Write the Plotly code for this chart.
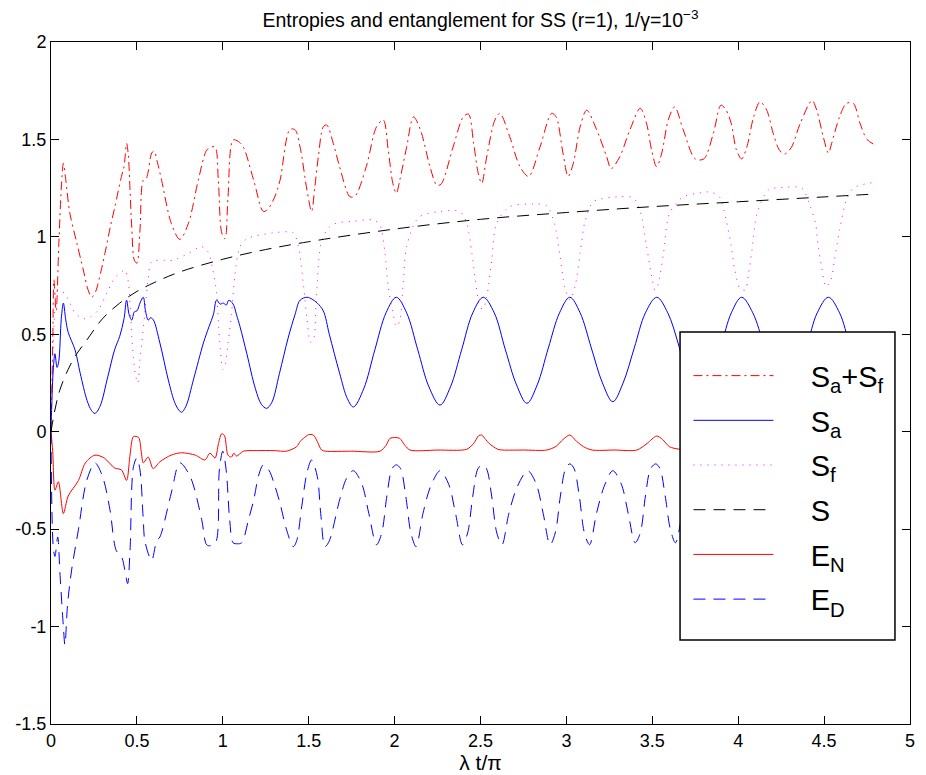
import plotly.graph_objects as go

# ---------------- data ----------------
x_ticks = [0, 0.5, 1, 1.5, 2, 2.5, 3, 3.5, 4, 4.5, 5]
x_ticklabels = ["0", "0.5", "1", "1.5", "2", "2.5", "3", "3.5", "4", "4.5", "5"]
y_ticks = [-1.5, -1, -0.5, 0, 0.5, 1, 1.5, 2]
y_ticklabels = ["-1.5", "-1", "-0.5", "0", "0.5", "1", "1.5", "2"]

# S_a + S_f  (red dash-dot)
sum_x = [0, 0.01, 0.017, 0.03, 0.045, 0.06, 0.072, 0.085, 0.11, 0.15, 0.188, 0.215, 0.237, 0.26, 0.29,
         0.314, 0.345, 0.372, 0.41, 0.425, 0.44, 0.45, 0.46, 0.47, 0.485, 0.50, 0.518, 0.537, 0.555,
         0.586, 0.60, 0.62, 0.644, 0.70, 0.75, 0.80, 0.857, 0.906, 0.93, 0.955, 0.974, 0.994, 1.013,
         1.03, 1.06, 1.09, 1.12, 1.18, 1.236, 1.26, 1.30, 1.333, 1.39, 1.42, 1.45, 1.49, 1.517, 1.535,
         1.556, 1.585, 1.605, 1.643, 1.68, 1.74, 1.77, 1.835, 1.895, 1.934, 1.963, 1.99, 2.01, 2.03,
         2.07, 2.11, 2.15, 2.206, 2.245, 2.27, 2.34, 2.40, 2.43, 2.46, 2.487, 2.507, 2.536, 2.584,
         2.613, 2.67, 2.73, 2.78, 2.846, 2.914, 2.94, 2.98, 3.01, 3.04, 3.08, 3.118, 3.176, 3.235,
         3.26, 3.31, 3.37, 3.43, 3.467, 3.496, 3.525, 3.555, 3.593, 3.63, 3.68, 3.75, 3.80, 3.855,
         3.90, 3.93, 3.96, 3.99, 4.02, 4.05, 4.09, 4.127, 4.166, 4.204, 4.24, 4.27, 4.31, 4.36, 4.43,
         4.457, 4.495, 4.525, 4.544, 4.59, 4.63, 4.67, 4.71, 4.75, 4.80]
sum_y = [0, 0.45, 0.78, 0.62, 0.95, 1.25, 1.377, 1.30, 1.12, 0.97, 0.83, 0.73, 0.69, 0.72, 0.82,
         0.915, 1.05, 1.155, 1.31, 1.36, 1.48, 1.42, 1.24, 1.05, 0.88, 0.865, 1.035, 1.29, 1.30,
         1.43, 1.44, 1.38, 1.29, 1.07, 0.987, 1.07, 1.29, 1.445, 1.46, 1.46, 1.29, 1.02, 0.99,
         1.2, 1.497, 1.49, 1.46, 1.29, 1.13, 1.14, 1.20, 1.29, 1.55, 1.55, 1.46, 1.24, 1.13, 1.25,
         1.41, 1.565, 1.574, 1.48, 1.36, 1.206, 1.21, 1.36, 1.565, 1.60, 1.445, 1.274, 1.223, 1.29,
         1.46, 1.616, 1.55, 1.36, 1.266, 1.27, 1.46, 1.616, 1.63, 1.48, 1.326, 1.274, 1.41, 1.60,
         1.634, 1.514, 1.36, 1.31, 1.46, 1.634, 1.616, 1.43, 1.31, 1.377, 1.565, 1.65, 1.55, 1.41,
         1.35, 1.41, 1.55, 1.66, 1.58, 1.445, 1.36, 1.43, 1.60, 1.667, 1.55, 1.40, 1.40, 1.53,
         1.676, 1.65, 1.58, 1.445, 1.40, 1.46, 1.616, 1.693, 1.65, 1.53, 1.445, 1.425, 1.46, 1.58, 1.70,
         1.65, 1.514, 1.43, 1.48, 1.616, 1.685, 1.685, 1.58, 1.50, 1.47]

# S_a  (blue solid)
sa_x = [0, 0.013, 0.023, 0.035, 0.045, 0.06, 0.072, 0.085, 0.10, 0.14, 0.17, 0.21, 0.235, 0.256, 0.285,
        0.33, 0.37, 0.40, 0.425, 0.44, 0.455, 0.47, 0.485, 0.50, 0.52, 0.537, 0.55, 0.566, 0.58, 0.595,
        0.634, 0.683, 0.72, 0.745, 0.76, 0.785, 0.83, 0.887, 0.92, 0.945, 0.964, 0.985, 1.003, 1.02,
        1.035, 1.06, 1.08, 1.10, 1.14, 1.19, 1.225, 1.255, 1.285, 1.33, 1.38, 1.42, 1.45, 1.49, 1.52,
        1.55, 1.585, 1.62, 1.68, 1.725, 1.76, 1.82, 1.885, 1.95, 2.01, 2.07, 2.135, 2.20, 2.264, 2.325,
        2.39, 2.455, 2.516, 2.58, 2.645, 2.71, 2.77, 2.83, 2.895, 2.96, 3.02, 3.08, 3.145, 3.21, 3.27,
        3.33, 3.395, 3.46, 3.526, 3.59, 3.65, 3.71, 3.77, 3.83, 3.90, 3.96, 4.02, 4.085, 4.15, 4.21,
        4.27, 4.33, 4.40, 4.46, 4.525, 4.59, 4.65, 4.71, 4.77, 4.80]
sa_y = [0, 0.317, 0.40, 0.33, 0.36, 0.58, 0.66, 0.58, 0.51, 0.42, 0.30, 0.16, 0.11, 0.094, 0.13,
        0.28, 0.42, 0.49, 0.58, 0.675, 0.60, 0.573, 0.615, 0.62, 0.665, 0.69, 0.62, 0.573, 0.585, 0.575,
        0.455, 0.265, 0.15, 0.11, 0.10, 0.13, 0.27, 0.455, 0.54, 0.60, 0.675, 0.655, 0.66, 0.65,
        0.675, 0.655, 0.60, 0.54, 0.40, 0.22, 0.14, 0.12, 0.15, 0.30, 0.48, 0.60, 0.675, 0.69, 0.68,
        0.66, 0.62, 0.50, 0.30, 0.17, 0.127, 0.22, 0.42, 0.61, 0.69, 0.61, 0.42, 0.23, 0.137, 0.23,
        0.42, 0.61, 0.69, 0.61, 0.42, 0.24, 0.146, 0.24, 0.43, 0.61, 0.69, 0.61, 0.43, 0.25, 0.154,
        0.25, 0.43, 0.61, 0.69, 0.61, 0.455, 0.26, 0.16, 0.26, 0.44, 0.61, 0.69, 0.61, 0.44, 0.26,
        0.165, 0.26, 0.44, 0.61, 0.69, 0.61, 0.44, 0.27, 0.17, 0.20]

# S_f  (magenta dotted)
sf_x = [0, 0.01, 0.02, 0.035, 0.06, 0.081, 0.11, 0.14, 0.188, 0.23, 0.275, 0.324, 0.372, 0.41, 0.43,
        0.45, 0.47, 0.48, 0.49, 0.505, 0.518, 0.528, 0.545, 0.565, 0.586, 0.664, 0.71, 0.80, 0.877,
        0.916, 0.94, 0.964, 0.975, 0.99, 1.0, 1.01, 1.03, 1.05, 1.07, 1.10, 1.14, 1.29, 1.41, 1.44,
        1.47, 1.49, 1.51, 1.527, 1.545, 1.575, 1.62, 1.66, 1.76, 1.876, 1.915, 1.944, 1.963, 1.99,
        2.01, 2.03, 2.05, 2.07, 2.14, 2.264, 2.38, 2.42, 2.45, 2.47, 2.497, 2.515, 2.536, 2.565,
        2.594, 2.67, 2.81, 2.885, 2.93, 2.963, 2.99, 3.02, 3.05, 3.08, 3.11, 3.157, 3.31, 3.39,
        3.43, 3.467, 3.50, 3.516, 3.535, 3.565, 3.60, 3.68, 3.76, 3.84, 3.89, 3.93, 3.96, 3.98,
        4.01, 4.04, 4.06, 4.08, 4.11, 4.175, 4.27, 4.37, 4.42, 4.45, 4.466, 4.486, 4.51, 4.54,
        4.56, 4.59, 4.63, 4.67, 4.757, 4.80]
sf_y = [0, 0.35, 0.60, 0.72, 0.72, 0.71, 0.66, 0.61, 0.58, 0.59, 0.624, 0.71, 0.79, 0.82, 0.83,
        0.77, 0.49, 0.38, 0.30, 0.25, 0.37, 0.45, 0.60, 0.78, 0.872, 0.88, 0.88, 0.915, 0.95,
        0.92, 0.84, 0.71, 0.55, 0.38, 0.32, 0.33, 0.45, 0.60, 0.80, 0.95, 0.99, 1.02, 1.02, 0.95,
        0.75, 0.58, 0.46, 0.47, 0.70, 0.98, 1.05, 1.07, 1.08, 1.086, 1.06, 0.915, 0.744, 0.61,
        0.54, 0.57, 0.76, 0.95, 1.10, 1.13, 1.13, 1.07, 0.915, 0.78, 0.64, 0.63, 0.69, 0.88,
        1.07, 1.155, 1.168, 1.16, 1.07, 0.90, 0.744, 0.676, 0.744, 0.915, 1.086, 1.18, 1.206, 1.20,
        1.13, 0.95, 0.78, 0.727, 0.76, 0.915, 1.12, 1.206, 1.223, 1.23, 1.206, 1.086, 0.95, 0.83,
        0.736, 0.727, 0.81, 0.93, 1.12, 1.24, 1.254, 1.25, 1.155, 1.07, 0.95, 0.846, 0.744, 0.78,
        0.88, 1.035, 1.19, 1.25, 1.275, 1.28]

# S  (black dashed)
s_x = [0, 0.02, 0.05, 0.1, 0.15, 0.2, 0.3, 0.4, 0.5, 0.6, 0.75, 1.0, 1.25, 1.5, 2.0, 2.5, 3.0, 3.5,
       4.0, 4.5, 4.8]
s_y = [0.0, 0.1, 0.21, 0.32, 0.40, 0.46, 0.58, 0.66, 0.72, 0.765, 0.82, 0.885, 0.935, 0.975, 1.04,
       1.09, 1.125, 1.155, 1.18, 1.205, 1.22]

# E_N  (red solid)
en_x = [0, 0.01, 0.023, 0.043, 0.072, 0.10, 0.16, 0.20, 0.256, 0.31, 0.37, 0.41, 0.44, 0.46, 0.48,
        0.51, 0.525, 0.537, 0.566, 0.595, 0.634, 0.70, 0.76, 0.84, 0.896, 0.925, 0.955, 0.975, 0.994,
        1.01, 1.03, 1.05, 1.065, 1.08, 1.12, 1.2, 1.3, 1.37, 1.43, 1.45, 1.47, 1.50, 1.527, 1.55,
        1.575, 1.6, 1.75, 1.915, 1.95, 1.973, 2.0, 2.03, 2.06, 2.09, 2.25, 2.42, 2.46, 2.49, 2.507,
        2.53, 2.55, 2.6, 2.63, 2.75, 2.885, 2.94, 2.98, 3.02, 3.06, 3.10, 3.15, 3.28, 3.41, 3.47,
        3.525, 3.56, 3.60, 3.66, 3.9, 3.96, 4.0, 4.03, 4.08, 4.13, 4.4, 4.46, 4.51, 4.56, 4.62, 4.8]
en_y = [0, -0.10, -0.30, -0.257, -0.42, -0.33, -0.25, -0.16, -0.12, -0.135, -0.186, -0.196, -0.25,
        -0.12, -0.025, -0.03, -0.10, -0.16, -0.13, -0.19, -0.154, -0.12, -0.108, -0.12, -0.145,
        -0.11, -0.135, -0.06, -0.01, -0.02, -0.12, -0.13, -0.11, -0.125, -0.10, -0.097, -0.097,
        -0.10, -0.077, -0.05, -0.034, -0.015, -0.017, -0.05, -0.094, -0.10, -0.10, -0.10, -0.07,
        -0.034, -0.03, -0.034, -0.07, -0.094, -0.094, -0.09, -0.06, -0.02, -0.017, -0.04, -0.06,
        -0.09, -0.094, -0.094, -0.094, -0.075, -0.04, -0.017, -0.05, -0.077, -0.094, -0.094,
        -0.094, -0.06, -0.022, -0.04, -0.077, -0.09, -0.094, -0.06, -0.025, -0.025, -0.07, -0.094,
        -0.094, -0.06, -0.022, -0.05, -0.09, -0.094]

# E_D  (blue dashed)
ed_x = [0, 0.013, 0.023, 0.039, 0.052, 0.072, 0.081, 0.097, 0.12, 0.16, 0.208, 0.256, 0.30, 0.343,
        0.38, 0.41, 0.43, 0.446, 0.46, 0.48, 0.50, 0.518, 0.537, 0.547, 0.586, 0.615, 0.634, 0.70,
        0.75, 0.81, 0.877, 0.906, 0.93, 0.96, 0.98, 1.0, 1.02, 1.04, 1.06, 1.085, 1.11, 1.15, 1.18,
        1.21, 1.236, 1.27, 1.30, 1.333, 1.37, 1.41, 1.43, 1.46, 1.49, 1.517, 1.55, 1.57, 1.595,
        1.62, 1.68, 1.72, 1.76, 1.81, 1.85, 1.895, 1.925, 1.955, 1.985, 2.01, 2.035, 2.065, 2.095,
        2.125, 2.165, 2.21, 2.265, 2.315, 2.355, 2.395, 2.425, 2.455, 2.485, 2.51, 2.535, 2.565,
        2.595, 2.625, 2.665, 2.715, 2.775, 2.825, 2.865, 2.905, 2.935, 2.965, 2.995, 3.02, 3.045,
        3.075, 3.105, 3.135, 3.175, 3.22, 3.27, 3.32, 3.36, 3.40, 3.43, 3.46, 3.49, 3.52, 3.545,
        3.575, 3.605, 3.635, 3.675, 3.72, 3.77, 3.82, 3.86, 3.90, 3.93, 3.96, 3.99, 4.02, 4.045,
        4.075, 4.105, 4.135, 4.175, 4.22, 4.27, 4.32, 4.36, 4.40, 4.43, 4.46, 4.49, 4.52, 4.545,
        4.575, 4.605, 4.635, 4.675, 4.72, 4.77, 4.80]
ed_y = [0, -0.59, -0.64, -0.54, -0.725, -1.0, -1.095, -0.88, -0.71, -0.50, -0.25, -0.16, -0.23,
        -0.40, -0.61, -0.64, -0.71, -0.78, -0.61, -0.18, -0.135, -0.196, -0.45, -0.564, -0.66,
        -0.56, -0.54, -0.315, -0.16, -0.23, -0.45, -0.58, -0.585, -0.565, -0.196, -0.10, -0.2,
        -0.45, -0.57, -0.575, -0.57, -0.45, -0.35, -0.22, -0.17, -0.2, -0.27, -0.367, -0.5, -0.59,
        -0.56, -0.38, -0.21, -0.145, -0.23, -0.42, -0.59, -0.56, -0.35, -0.24, -0.2, -0.27, -0.42,
        -0.58, -0.52, -0.33, -0.19, -0.17, -0.19, -0.33, -0.52, -0.59, -0.42, -0.28, -0.2, -0.27,
        -0.42, -0.58, -0.52, -0.33, -0.19, -0.17, -0.19, -0.33, -0.52, -0.58, -0.42, -0.28, -0.2,
        -0.27, -0.42, -0.58, -0.52, -0.33, -0.19, -0.165, -0.19, -0.33, -0.52, -0.58, -0.42, -0.28,
        -0.2, -0.27, -0.42, -0.57, -0.52, -0.33, -0.19, -0.165, -0.19, -0.33, -0.5, -0.57, -0.42,
        -0.28, -0.2, -0.27, -0.42, -0.57, -0.52, -0.33, -0.19, -0.165, -0.19, -0.33, -0.52, -0.57,
        -0.42, -0.28, -0.2, -0.27, -0.42, -0.57, -0.52, -0.33, -0.19, -0.165, -0.19, -0.33, -0.52,
        -0.57, -0.42, -0.28, -0.2, -0.22]

names = ["S<sub>a</sub>+S<sub>f</sub>", "S<sub>a</sub>", "S<sub>f</sub>", "S",
         "E<sub>N</sub>", "E<sub>D</sub>"]

# ---------------- figure ----------------
FONT = "Liberation Sans, Arial, Helvetica, sans-serif"
pad = "\u00a0" * 4

fig = go.Figure()
series = [
    (sum_x, sum_y, "#ff0000", "9px,4px,2px,4px", 1.0, 0.9),
    (sa_x, sa_y, "#0000ff", "solid", 1.0, 1.0),
    (sf_x, sf_y, "#ff00ff", "1px,6px", 1.0, 0.8),
    (s_x, s_y, "#000000", "12px,8px", 1.0, 1.0),
    (en_x, en_y, "#ff0000", "solid", 1.0, 0.8),
    (ed_x, ed_y, "#0000ff", "12px,8px", 1.0, 0.9),
]
for i, (xs, ys, col, dash, w, sm) in enumerate(series):
    fig.add_trace(go.Scatter(
        x=xs, y=ys, mode="lines", name=pad + names[i], legendgroup=str(i),
        line=dict(color=col, dash=dash, width=w, shape="spline", smoothing=sm),
    ))

axis_common = dict(showline=True, linecolor="black", linewidth=1, mirror="ticks",
                   ticks="inside", ticklen=8, tickcolor="black", tickwidth=1,
                   showgrid=False, zeroline=False, automargin=False,
                   tickfont=dict(family=FONT, size=18, color="black"))

fig.update_layout(
    width=926, height=775,
    margin=dict(l=43, r=24, t=34, b=59, autoexpand=False),
    paper_bgcolor="white", plot_bgcolor="white",
    font=dict(family=FONT, color="black"),
    title=dict(text="Entropies and entanglement for SS (r=1), 1/γ=10<sup>−3</sup>",
               x=0.5, xref="paper", xanchor="center", y=0.9845, yanchor="middle",
               font=dict(family=FONT, size=19.5, color="black")),
    xaxis=dict(range=[0, 5], tickvals=x_ticks, ticktext=x_ticklabels,
               title=dict(text="λ t/π", font=dict(family=FONT, size=21), standoff=4),
               **axis_common),
    yaxis=dict(range=[-1.5, 2], tickvals=y_ticks, ticktext=y_ticklabels, **axis_common),
    legend=dict(x=0.7421, y=0.548, xanchor="left", yanchor="top",
                bgcolor="rgba(0,0,0,0)", borderwidth=0, itemwidth=80,
                tracegroupgap=4, font=dict(family=FONT, size=29, color="black")),
    shapes=[dict(type="rect", xref="paper", yref="paper", x0=0.7323, x1=0.9825,
                 y0=0.1232, y1=0.5748, line=dict(color="black", width=1.5),
                 fillcolor="white", layer="above")],
)

fig.write_html("out.html")
